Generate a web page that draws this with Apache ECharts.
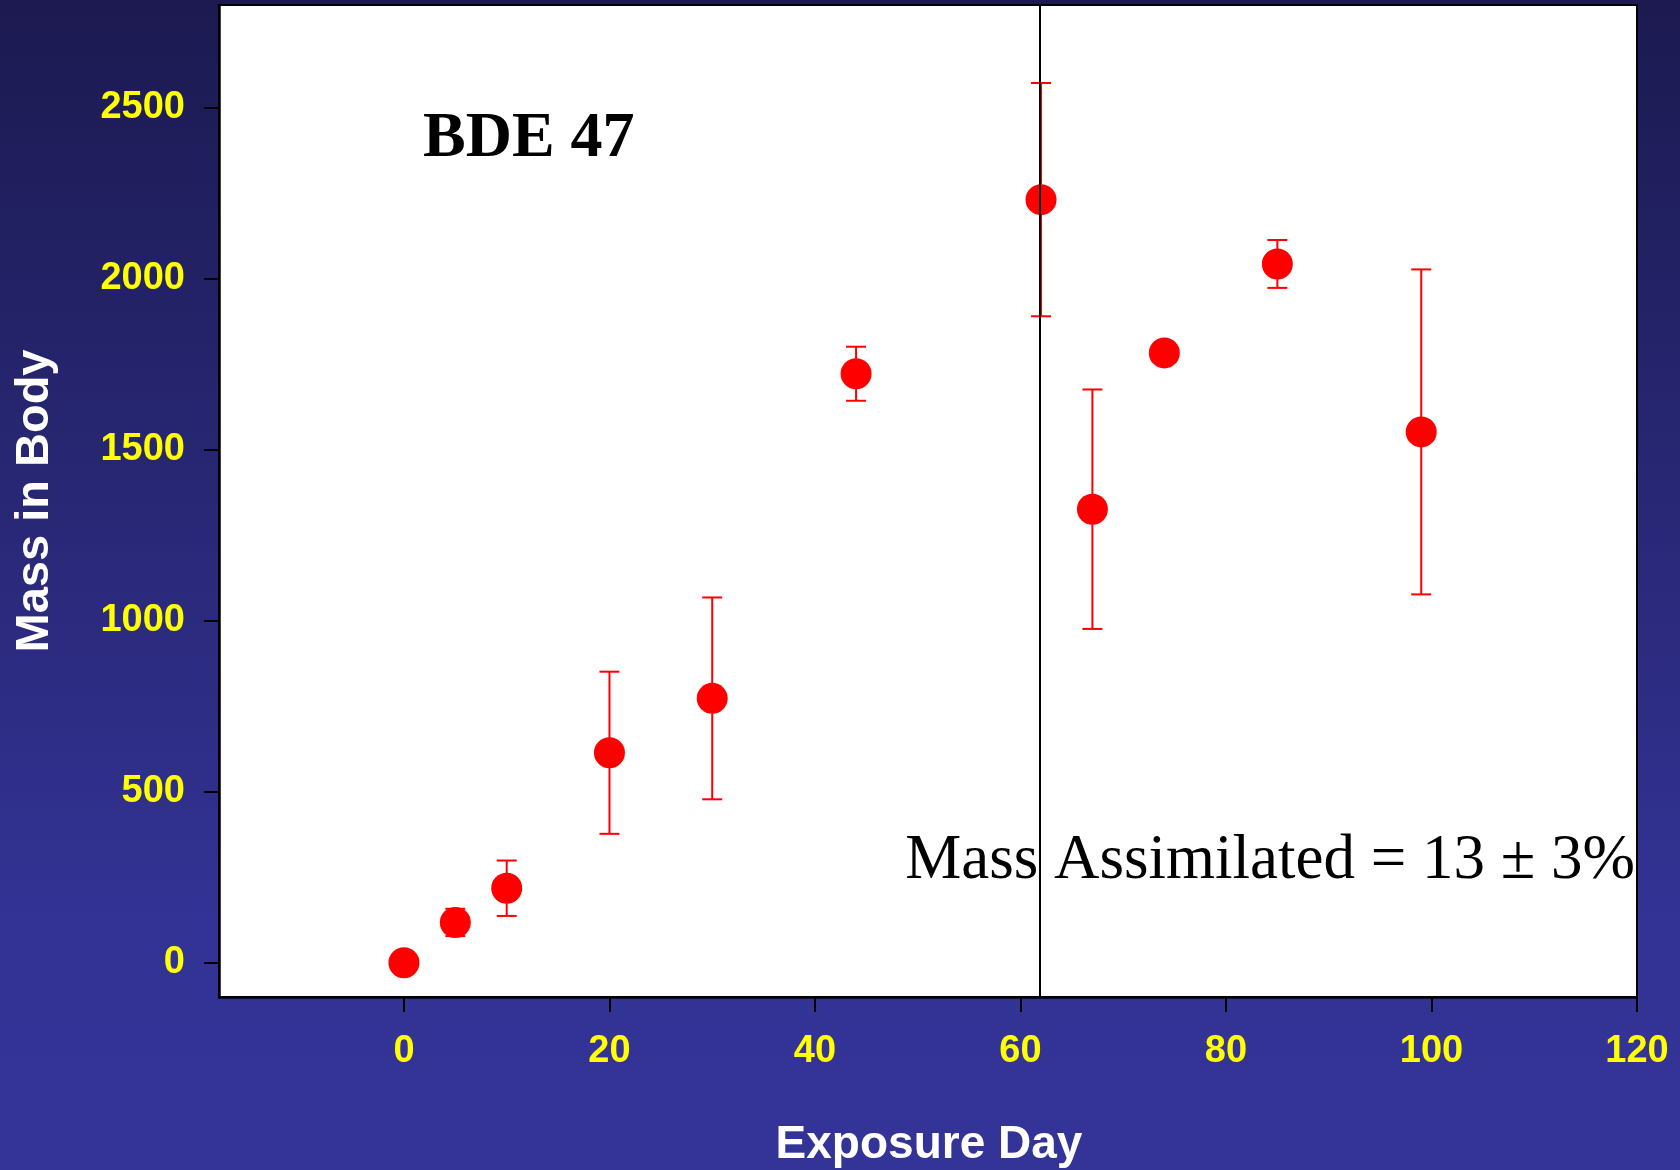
<!DOCTYPE html>
<html>
<head>
<meta charset="utf-8">
<script src="https://cdn.jsdelivr.net/npm/echarts@6/dist/echarts.min.js"></script>
<style>
html,body{margin:0;padding:0;}
#chart{width:1680px;height:1170px;}
</style>
</head>
<body>
<div id="chart"></div>
<script>
// ---- data ----
const days = [0, 5, 10, 20, 30, 44, 62, 67, 74, 85, 99];
const mass = [0, 118, 218, 614, 773, 1722, 2231, 1326, 1783, 2043, 1552];
const errs = [0, 40, 81, 237, 295, 79, 341, 350, 20, 70, 475];
const xTicks = [0, 20, 40, 60, 80, 100, 120];
const yTicks = [0, 500, 1000, 1500, 2000, 2500];
const refLineX = 61.85;
const titleText = 'BDE 47';
const noteText = 'Mass Assimilated = 13 \u00b1 3%';
const xName = 'Exposure Day';
const yName = 'Mass in Body';

const points = days.map((d, i) => [d, mass[i]]);
const errData = days.map((d, i) => [d, mass[i], errs[i]]);

const chart = echarts.init(document.getElementById('chart'), null, {renderer: 'canvas'});

const labelStyle = {
  color: '#ffff00', fontFamily: 'Liberation Sans', fontWeight: 'bold', fontSize: 38,
  formatter: function (v) { return String(v); }
};

chart.setOption({
  animation: false,
  backgroundColor: {
    type: 'linear', x: 0, y: 0, x2: 0, y2: 1,
    colorStops: [
      {offset: 0, color: '#1c1a50'},
      {offset: 0.8, color: '#333396'},
      {offset: 1, color: '#343498'}
    ]
  },
  grid: {
    left: 219, top: 5, width: 1418, height: 992,
    show: true, backgroundColor: '#ffffff', borderColor: '#000000', borderWidth: 2
  },
  xAxis: {
    type: 'value', min: -18, max: 120,
    splitLine: {show: false},
    axisLine: {show: true, onZero: false, lineStyle: {color: '#000', width: 2.5}},
    axisTick: {show: true, inside: false, length: 15, lineStyle: {color: '#000', width: 2}, customValues: xTicks},
    axisLabel: Object.assign({margin: 36, customValues: xTicks}, labelStyle)
  },
  yAxis: {
    type: 'value', min: -100, max: 2800,
    splitLine: {show: false},
    axisLine: {show: true, onZero: false, lineStyle: {color: '#000', width: 2.5}},
    axisTick: {show: true, inside: false, length: 15, lineStyle: {color: '#000', width: 2}, customValues: yTicks},
    axisLabel: Object.assign({margin: 34, customValues: yTicks}, labelStyle)
  },
  graphic: [
    {
      type: 'text', x: 423, y: 139, z: 100,
      style: {text: titleText, fill: '#000', font: 'bold 64px "Liberation Serif"', align: 'left', verticalAlign: 'middle'}
    },
    {
      type: 'text', x: 1635, y: 861, z: 100,
      style: {text: noteText, fill: '#000', font: '63px "Liberation Serif"', align: 'right', verticalAlign: 'middle'}
    },
    {
      type: 'text', x: 929, y: 1145, z: 100,
      style: {text: xName, fill: '#fff', font: 'bold 46px "Liberation Sans"', align: 'center', verticalAlign: 'middle'}
    },
    {
      type: 'text', x: 35, y: 501, rotation: Math.PI / 2, z: 100,
      style: {text: yName, fill: '#fff', font: 'bold 47px "Liberation Sans"', align: 'center', verticalAlign: 'middle'}
    }
  ],
  series: [
    {
      type: 'custom',
      z: 1,
      data: errData,
      renderItem: function (params, api) {
        const x = api.value(0), y = api.value(1), e = api.value(2);
        if (!e) return null;
        const top = api.coord([x, y + e]);
        const bot = api.coord([x, y - e]);
        const hw = 10;
        const st = {stroke: '#ff0000', lineWidth: 2};
        return {
          type: 'group',
          children: [
            {type: 'line', shape: {x1: top[0], y1: top[1], x2: bot[0], y2: bot[1]}, style: st},
            {type: 'line', shape: {x1: top[0] - hw, y1: top[1], x2: top[0] + hw, y2: top[1]}, style: st},
            {type: 'line', shape: {x1: bot[0] - hw, y1: bot[1], x2: bot[0] + hw, y2: bot[1]}, style: st}
          ]
        };
      }
    },
    {
      type: 'scatter',
      z: 2,
      data: points,
      symbol: 'circle',
      symbolSize: 31,
      itemStyle: {color: '#ff0000', opacity: 1},
      markLine: {
        silent: true,
        symbol: ['none', 'none'],
        label: {show: false},
        lineStyle: {color: '#000', width: 2, type: 'solid'},
        data: [{xAxis: refLineX}]
      }
    }
  ]
});
</script>
</body>
</html>
